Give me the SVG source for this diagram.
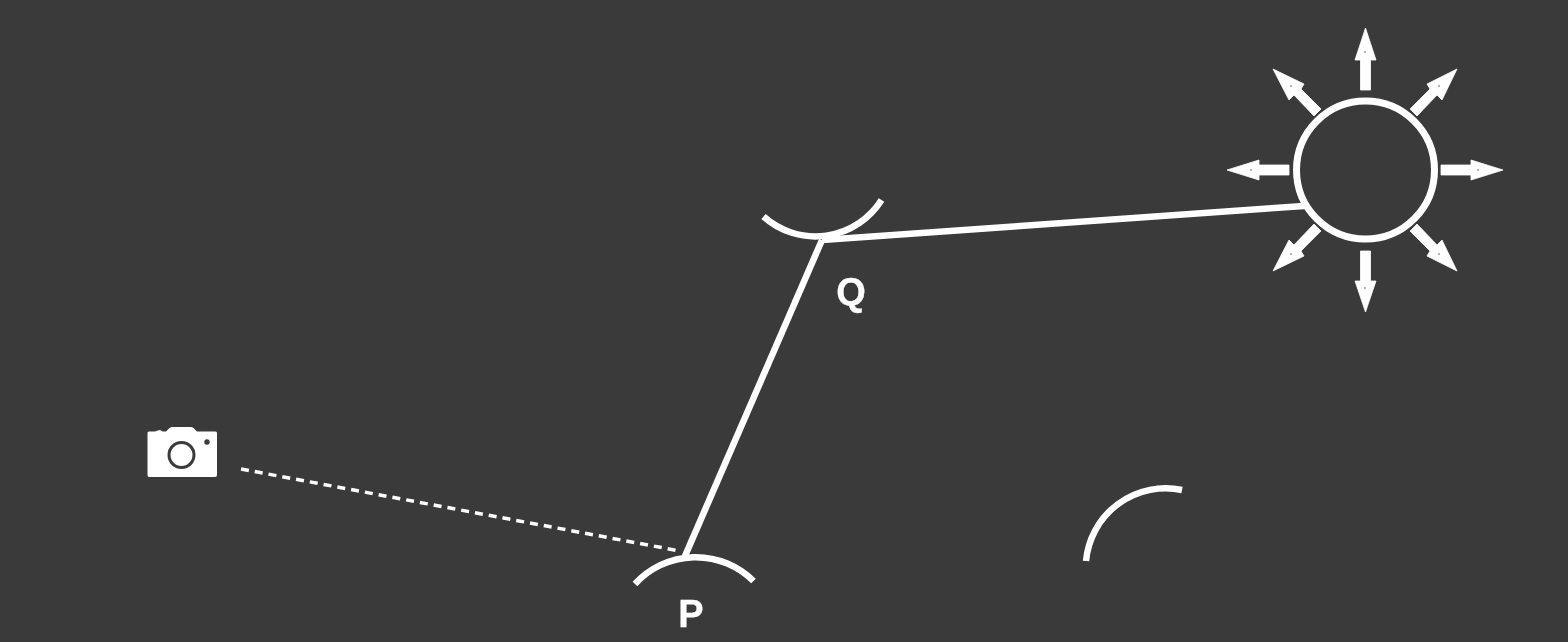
<svg xmlns="http://www.w3.org/2000/svg" width="1568" height="642" viewBox="0 0 1568 642">
  <defs>
    <style>
      .line { fill: none; stroke: #fff; stroke-width: 6.5; }
      .arc { fill: none; stroke: #fff; stroke-width: 6.5; }
      .dash { fill: none; stroke: #fff; stroke-width: 3.5; stroke-dasharray: 8 6; }
      .ray { fill: #fff; stroke: #fff; stroke-width: 0.8; stroke-linejoin: miter; }
      .pin { fill: #9a9a9a; }
      .label { font-family: "Liberation Sans", Arial, sans-serif; font-weight: 700; font-size: 38px; fill: #fff; text-anchor: middle; stroke: #fff; stroke-width: 0.3; }
    </style>
    <filter id="soft" x="0" y="0" width="100%" height="100%">
      <feGaussianBlur stdDeviation="0.7"/>
    </filter>
  </defs>
  <rect width="1568" height="642" fill="#3a3a3a"/>
  <g filter="url(#soft)">
  <g id="connectors">
    <path class="dash" d="M241 469L680 551"/>
    <path class="line" d="M685 556L822 240"/>
    <path class="line" d="M822 240L1304 206"/>
  </g>
  <g id="camera">
    <path fill="#fff" d="M149 431.500L155 431.500Q158 430 160 430L163 431.500L166 431.500L169 428.500Q170 427 172 427L191 427Q193 427 194 428.500L197 431.500L215.500 431.500Q217 431.500 217 433L217 475Q217 477 215 477L149 477Q147.500 477 147.500 475L147.500 433Q147.500 431.500 149 431.500Z"/>
    <circle cx="181.500" cy="455" r="12.500" fill="none" stroke="#3a3a3a" stroke-width="3"/>
    <circle cx="207" cy="442" r="2.700" fill="#3a3a3a"/>
  </g>
  <g id="surface-p">
    <path class="arc" d="M635 584A82 82 0 0 1 753.500 581"/>
    <text class="label" x="691" y="627">P</text>
  </g>
  <g id="surface-q">
    <path class="arc" d="M763.500 216.500A78 78 0 0 0 881.500 200"/>
    <text class="label" x="851" y="305">Q</text>
  </g>
  <g id="surface-r">
    <path class="arc" d="M1086 561A80 80 0 0 1 1182 490"/>
  </g>
  <g id="light">
    <circle cx="1365.500" cy="170" r="69" fill="none" stroke="#fff" stroke-width="7"/>
    <path class="ray" d="M1360.500 90V60H1355L1365.500 28L1376 60H1370.500V90Z"/>
    <path class="ray" d="M1360.500 251V281H1355L1365.500 312L1376 281H1370.500V251Z"/>
    <path class="ray" d="M1289 165H1259V160L1227 170L1259 180V175H1289Z"/>
    <path class="ray" d="M1441 165H1471V160L1503 170L1471 180V175H1441Z"/>
    <path class="ray" d="M1410 109L1430 89L1427 84L1457 69L1442 100L1437 95L1417 116Z"/>
    <path class="ray" d="M1321 109L1301 89L1304 84L1273 69L1289 100L1294 95L1314 116Z"/>
    <path class="ray" d="M1410 231L1430 251L1427 256L1457 271L1442 240L1437 245L1417 224Z"/>
    <path class="ray" d="M1321 231L1301 251L1304 256L1273 271L1289 240L1294 245L1314 224Z"/>
    <circle class="pin" cx="1365" cy="52" r="1"/>
    <circle class="pin" cx="1365" cy="288" r="1"/>
    <circle class="pin" cx="1251" cy="170" r="1"/>
    <circle class="pin" cx="1478" cy="170" r="1"/>
    <circle class="pin" cx="1439" cy="86" r="1"/>
    <circle class="pin" cx="1291" cy="86" r="1"/>
    <circle class="pin" cx="1439" cy="254" r="1"/>
    <circle class="pin" cx="1291" cy="254" r="1"/>
  </g>
  </g>
</svg>
